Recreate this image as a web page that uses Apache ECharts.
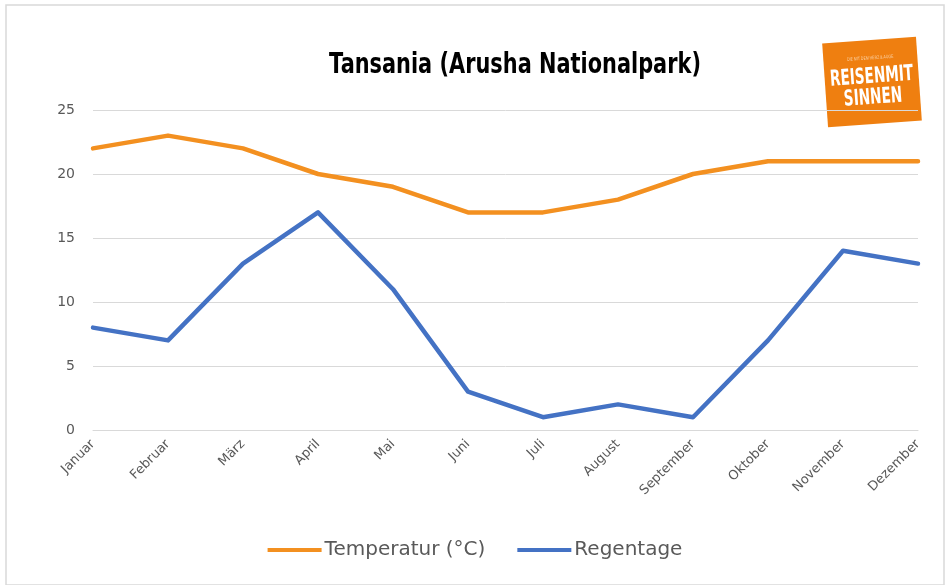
<!DOCTYPE html>
<html>
<head>
<meta charset="utf-8">
<script src="https://cdn.jsdelivr.net/npm/echarts@6/dist/echarts.min.js"></script>
<style>
  html, body { margin: 0; padding: 0; background: #fff; }
  #chart { width: 950px; height: 585px; }
</style>
</head>
<body>
<div id="chart"></div>
<script>
// Monatsdaten Arusha Nationalpark
const months = ['Januar', 'Februar', 'März', 'April', 'Mai', 'Juni', 'Juli', 'August', 'September', 'Oktober', 'November', 'Dezember']
const temperatur = [22, 23, 22, 20, 19, 17, 17, 18, 20, 21, 21, 21]
const regentage = [8, 7, 13, 17, 11, 3, 1, 2, 1, 7, 14, 13]
const yTicks = [0, 5, 10, 15, 20, 25]

const chart = echarts.init(document.getElementById('chart'))

const labelFont = '"DejaVu Sans", Verdana, sans-serif'
const narrowFont = '"DejaVu Sans", sans-serif'

chart.setOption({
  animation: false,
  grid: {
    left: 93,
    right: 32,
    top: 110,
    bottom: 155
  },
  legend: {
    bottom: 20,
    left: 'center',
    itemWidth: 54,
    itemHeight: 4,
    itemGap: 32,
    icon: 'rect',
    textStyle: { color: '#595959', fontSize: 20, padding: [0, 0, 0, -2], fontFamily: labelFont },
    data: ['Temperatur (°C)', 'Regentage']
  },
  xAxis: {
    type: 'category',
    boundaryGap: false,
    data: months,
    axisLine: { show: true, lineStyle: { color: '#d9d9d9' } },
    axisTick: { show: false },
    axisLabel: {
      rotate: 45,
      interval: 0,
      margin: 12,
      color: '#595959',
      fontSize: 13,
      fontFamily: labelFont
    }
  },
  yAxis: {
    type: 'value',
    min: yTicks[0],
    max: yTicks[yTicks.length - 1],
    interval: 5,
    axisLine: { show: false },
    axisTick: { show: false },
    splitLine: { lineStyle: { color: '#d9d9d9' } },
    axisLabel: {
      margin: 18,
      color: '#595959',
      fontSize: 14,
      fontFamily: labelFont
    }
  },
  series: [
    {
      name: 'Temperatur (°C)',
      type: 'line',
      data: temperatur,
      symbol: 'none',
      color: '#f39020',
      lineStyle: { width: 4.5, color: '#f39020', cap: 'round', join: 'round' }
    },
    {
      name: 'Regentage',
      type: 'line',
      data: regentage,
      symbol: 'none',
      color: '#4472c4',
      lineStyle: { width: 4.5, color: '#4472c4', cap: 'round', join: 'round' }
    }
  ],
  graphic: [
    {
      type: 'rect',
      shape: { x: 6, y: 5, width: 938, height: 580 },
      style: { fill: 'none', stroke: '#d9d9d9', lineWidth: 1.5 },
      silent: true
    },
    {
      // Titel, schmal gestaucht
      type: 'text',
      x: 515,
      y: 65,
      scaleX: 0.72,
      style: {
        text: 'Tansania (Arusha Nationalpark)',
        align: 'center',
        verticalAlign: 'middle',
        fill: '#000',
        fontSize: 29,
        fontWeight: 'bold',
        fontFamily: narrowFont
      }
    },
    {
      type: 'group',
      x: 872,
      y: 82,
      rotation: 0.07,
      children: [
        {
          type: 'rect',
          shape: { x: -47, y: -42, width: 94, height: 84 },
          style: { fill: '#ef7f10' }
        },
        {
          type: 'text',
          scaleX: 0.7,
          style: {
            text: 'DIE MIT DEM HERZ & AUGE',
            x: 0, y: -24,
            align: 'center', verticalAlign: 'middle',
            fill: '#fbd3a8', fontSize: 5, fontFamily: 'sans-serif'
          }
        },
        {
          type: 'text',
          scaleX: 0.62,
          style: {
            text: 'REISENMIT',
            x: 0, y: -5,
            align: 'center', verticalAlign: 'middle',
            fill: '#fff', fontSize: 22, fontWeight: 'bold',
            fontFamily: narrowFont
          }
        },
        {
          type: 'text',
          scaleX: 0.62,
          style: {
            text: 'SINNEN',
            x: 0, y: 16,
            align: 'center', verticalAlign: 'middle',
            fill: '#fff', fontSize: 22, fontWeight: 'bold',
            fontFamily: narrowFont
          }
        }
      ]
    }
  ]
})
</script>
</body>
</html>
